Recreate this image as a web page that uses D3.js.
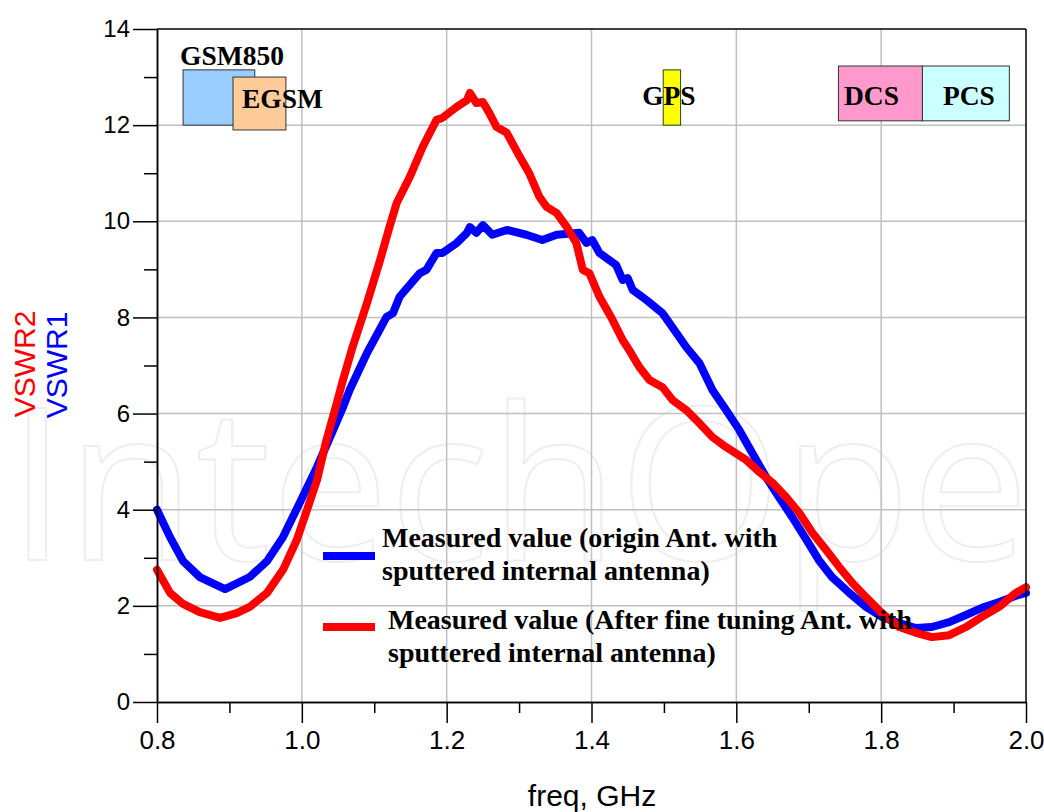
<!DOCTYPE html>
<html>
<head>
<meta charset="utf-8">
<title>VSWR measured</title>
<script src="https://d3js.org/d3.v7.min.js"></script>
<style>
  body { margin: 0; background: #fff; }
</style>
</head>
<body>
<div id="chart"></div>
<script>
// VSWR1 (blue) - origin antenna
var freq1 = [0.800, 0.818, 0.836, 0.859, 0.894, 0.928, 0.952, 0.974, 0.997, 1.021, 1.039, 1.057, 1.066, 1.090,
  1.117, 1.126, 1.135, 1.163, 1.172, 1.186, 1.194, 1.214, 1.228, 1.232, 1.241, 1.250, 1.263, 1.283, 1.310,
  1.332, 1.352, 1.383, 1.393, 1.401, 1.411, 1.434, 1.443, 1.450, 1.457, 1.476, 1.498, 1.517, 1.531, 1.549,
  1.567, 1.586, 1.604, 1.622, 1.641, 1.659, 1.677, 1.697, 1.714, 1.732, 1.756, 1.779, 1.801, 1.825, 1.848,
  1.870, 1.894, 1.917, 1.939, 1.963, 1.990, 2.000];
var vswr1 = [4.00, 3.43, 2.93, 2.60, 2.35, 2.60, 2.93, 3.43, 4.14, 4.89, 5.51, 6.14, 6.49, 7.26,
  8.01, 8.09, 8.43, 8.92, 8.99, 9.34, 9.34, 9.55, 9.76, 9.88, 9.76, 9.92, 9.72, 9.82, 9.72,
  9.61, 9.72, 9.76, 9.55, 9.61, 9.34, 9.09, 8.78, 8.82, 8.57, 8.36, 8.09, 7.68, 7.38, 7.05,
  6.49, 6.07, 5.66, 5.18, 4.68, 4.26, 3.85, 3.37, 2.95, 2.60, 2.27, 1.98, 1.77, 1.64, 1.54,
  1.56, 1.66, 1.81, 1.96, 2.08, 2.23, 2.27];

// VSWR2 (red) - after fine tuning
var freq2 = [0.800, 0.818, 0.836, 0.859, 0.887, 0.910, 0.928, 0.952, 0.974, 0.993, 1.007, 1.021, 1.034, 1.048,
  1.055, 1.070, 1.090, 1.108, 1.121, 1.131, 1.149, 1.167, 1.186, 1.194, 1.214, 1.228, 1.232, 1.241, 1.250,
  1.259, 1.269, 1.283, 1.301, 1.314, 1.328, 1.338, 1.352, 1.366, 1.379, 1.388, 1.397, 1.411, 1.429, 1.443,
  1.452, 1.466, 1.480, 1.498, 1.512, 1.531, 1.549, 1.567, 1.586, 1.614, 1.632, 1.650, 1.669, 1.687, 1.705,
  1.724, 1.742, 1.760, 1.779, 1.801, 1.825, 1.848, 1.870, 1.894, 1.917, 1.939, 1.963, 1.986, 2.000];
var vswr2 = [2.75, 2.27, 2.04, 1.87, 1.75, 1.85, 1.98, 2.27, 2.75, 3.37, 3.99, 4.62, 5.45, 6.20,
  6.60, 7.38, 8.30, 9.19, 9.88, 10.38, 10.92, 11.55, 12.11, 12.15, 12.38, 12.52, 12.67, 12.46, 12.48,
  12.25, 11.96, 11.84, 11.34, 11.00, 10.51, 10.30, 10.17, 9.88, 9.55, 8.99, 8.92, 8.43, 7.95, 7.53,
  7.32, 6.97, 6.70, 6.55, 6.28, 6.07, 5.80, 5.51, 5.30, 5.03, 4.78, 4.56, 4.26, 3.93, 3.52,
  3.16, 2.81, 2.48, 2.18, 1.85, 1.56, 1.44, 1.35, 1.39, 1.56, 1.77, 1.98, 2.27, 2.39];

var xTicks = [0.8, 1.0, 1.2, 1.4, 1.6, 1.8, 2.0];
var xMinor = [0.9, 1.1, 1.3, 1.5, 1.7, 1.9];
var yTicks = [0, 2, 4, 6, 8, 10, 12, 14];
var yMinor = [1, 3, 5, 7, 9, 11, 13];

// frequency bands (GHz, VSWR units)
var bandNames = ["GSM850", "EGSM", "GPS", "DCS", "PCS"];
var bandLo = [0.836, 0.905, 1.499, 1.741, 1.857];
var bandHi = [0.935, 0.978, 1.523, 1.857, 1.977];
var bandTop = [13.15, 13.0, 13.15, 13.23, 13.23];
var bandBottom = [12.0, 11.9, 12.0, 12.09, 12.09];

var legendText = [
  ["Measured value (origin Ant. with", "sputtered internal antenna)"],
  ["Measured value (After fine tuning Ant. with", "sputtered internal antenna)"]
];

var W = 1044, H = 812;
var mLeft = 157, mRight = 1026, mTop = 29, mBottom = 702;

var svg = d3.select("#chart").append("svg")
  .attr("width", W)
  .attr("height", H)
  .style("font-family", "'Liberation Sans', Arial, sans-serif");

var x = d3.scaleLinear().domain([0.8, 2.0]).range([mLeft, mRight]);
var y = d3.scaleLinear().domain([0, 14]).range([mBottom, mTop]);

// faint watermark
svg.append("text")
  .attr("x", 8)
  .attr("y", 560)
  .attr("textLength", 1150)
  .attr("lengthAdjust", "spacingAndGlyphs")
  .style("font-family", "'Open Sans', sans-serif")
  .style("font-size", "212px")
  .style("fill", "none")
  .style("stroke", "#eeeeee")
  .style("stroke-width", 2)
  .text("IntechOpen");

// grid
svg.append("g")
  .selectAll("line")
  .data(xTicks.slice(1, -1))
  .enter().append("line")
  .attr("x1", function(d) { return x(d); })
  .attr("x2", function(d) { return x(d); })
  .attr("y1", mTop).attr("y2", mBottom)
  .attr("stroke", "#c0c0c0").attr("stroke-width", 1.5);

svg.append("g")
  .selectAll("line")
  .data(yTicks.slice(1, -1))
  .enter().append("line")
  .attr("x1", mLeft).attr("x2", mRight)
  .attr("y1", function(d) { return y(d); })
  .attr("y2", function(d) { return y(d); })
  .attr("stroke", "#c0c0c0").attr("stroke-width", 1.5);

// bands
var bandFill = ["#99ccff", "#ffcc99", "#ffff00", "#ff99cc", "#ccffff"];
var bandStroke = ["#333333", "#333333", "#1f4a1f", "#333333", "#333333"];
var bands = bandNames.map(function(n, i) {
  return { name: n, lo: bandLo[i], hi: bandHi[i], t: bandTop[i], b: bandBottom[i], i: i };
});

svg.append("g")
  .selectAll("rect")
  .data(bands)
  .enter().append("rect")
  .attr("x", function(d) { return x(d.lo); })
  .attr("y", function(d) { return y(d.t); })
  .attr("width", function(d) { return x(d.hi) - x(d.lo); })
  .attr("height", function(d) { return y(d.b) - y(d.t); })
  .attr("fill", function(d) { return bandFill[d.i]; })
  .attr("stroke", function(d) { return bandStroke[d.i]; })
  .attr("stroke-width", 1);

// label placement relative to each box (layout only)
var labAnchor = ["start", "start", "middle", "middle", "middle"];
var labDx = [-3, 9, -3, -9, 3];
var labDy = [-5, 31, 35, 39, 39];
svg.append("g")
  .selectAll("text")
  .data(bands)
  .enter().append("text")
  .attr("x", function(d) {
    return labAnchor[d.i] == "start" ? x(d.lo) + labDx[d.i] : (x(d.lo) + x(d.hi)) / 2 + labDx[d.i];
  })
  .attr("y", function(d) { return y(d.t) + labDy[d.i]; })
  .attr("text-anchor", function(d) { return labAnchor[d.i]; })
  .style("font-family", "'Liberation Serif', 'Times New Roman', serif")
  .style("font-weight", "bold")
  .style("font-size", "27.5px")
  .text(function(d) { return d.name; });

// curves
var line = d3.line()
  .x(function(d) { return x(d[0]); })
  .y(function(d) { return y(d[1]); });

var s1 = freq1.map(function(f, i) { return [f, vswr1[i]]; });
var s2 = freq2.map(function(f, i) { return [f, vswr2[i]]; });

svg.append("path")
  .datum(s1)
  .attr("fill", "none")
  .attr("stroke", "#0000ff")
  .attr("stroke-width", 8)
  .attr("stroke-linejoin", "round")
  .attr("stroke-linecap", "round")
  .attr("d", line);

svg.append("path")
  .datum(s2)
  .attr("fill", "none")
  .attr("stroke", "#ff0000")
  .attr("stroke-width", 8)
  .attr("stroke-linejoin", "round")
  .attr("stroke-linecap", "round")
  .attr("d", line);

// legend
var legColor = ["#0000ff", "#ff0000"];
var legY = [556, 627];
var legTx = [382, 388];
var legBase = [547, 629];
legendText.forEach(function(lines, i) {
  svg.append("line")
    .attr("x1", 323).attr("x2", 375)
    .attr("y1", legY[i]).attr("y2", legY[i])
    .attr("stroke", legColor[i]).attr("stroke-width", 8);
  lines.forEach(function(t, j) {
    svg.append("text")
      .attr("x", legTx[i])
      .attr("y", legBase[i] + j * 33)
      .style("font-family", "'Liberation Serif', 'Times New Roman', serif")
      .style("font-weight", "bold")
      .style("font-size", "28px")
      .text(t);
  });
});

// frame
svg.append("line").attr("x1", mLeft).attr("x2", mRight).attr("y1", mTop).attr("y2", mTop)
  .attr("stroke", "#000").attr("stroke-width", 1.5);
svg.append("line").attr("x1", mRight).attr("x2", mRight).attr("y1", mTop).attr("y2", mBottom)
  .attr("stroke", "#000").attr("stroke-width", 1.5);

// axes
var yAxis = svg.append("g")
  .attr("transform", "translate(" + mLeft + ",0)")
  .call(d3.axisLeft(y).tickValues(yTicks).tickSize(24).tickPadding(3).tickSizeOuter(0));
var yMinorAxis = svg.append("g")
  .attr("transform", "translate(" + mLeft + ",0)")
  .call(d3.axisLeft(y).tickValues(yMinor).tickSize(13).tickFormat("").tickSizeOuter(0));
var xAxis = svg.append("g")
  .attr("transform", "translate(0," + mBottom + ")")
  .call(d3.axisBottom(x).tickValues(xTicks).tickSize(21).tickPadding(8).tickSizeOuter(0)
    .tickFormat(d3.format(".1f")));
var xMinorAxis = svg.append("g")
  .attr("transform", "translate(0," + mBottom + ")")
  .call(d3.axisBottom(x).tickValues(xMinor).tickSize(11).tickFormat("").tickSizeOuter(0));

[yAxis, yMinorAxis, xAxis, xMinorAxis].forEach(function(a) {
  a.selectAll("path.domain").attr("stroke", "#000").attr("stroke-width", 1.5);
  a.selectAll(".tick line").attr("stroke", "#000").attr("stroke-width", 1.5);
});
yAxis.selectAll(".tick text")
  .style("font-family", "'Liberation Sans', Arial, sans-serif")
  .style("font-size", "24px").attr("fill", "#000");
xAxis.selectAll(".tick text")
  .style("font-family", "'Liberation Sans', Arial, sans-serif")
  .style("font-size", "26px").attr("fill", "#000");

// axis titles
svg.append("text")
  .attr("x", 592)
  .attr("y", 806)
  .attr("text-anchor", "middle")
  .style("font-size", "30px")
  .text("freq, GHz");

svg.append("text")
  .attr("transform", "translate(35,364) rotate(-90)")
  .attr("text-anchor", "middle")
  .style("font-size", "30px")
  .attr("fill", "#ff0000")
  .text("VSWR2");

svg.append("text")
  .attr("transform", "translate(67,365) rotate(-90)")
  .attr("text-anchor", "middle")
  .style("font-size", "30px")
  .attr("fill", "#0000ff")
  .text("VSWR1");
</script>
</body>
</html>
